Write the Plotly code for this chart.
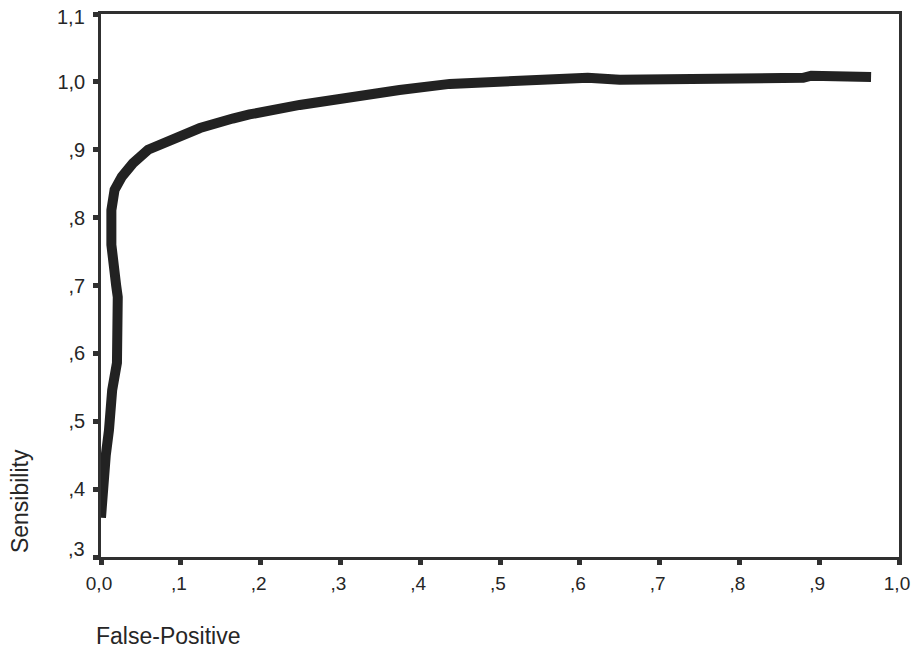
import plotly.graph_objects as go

# ROC curve
false_positive = [0.000, 0.002, 0.006, 0.010, 0.014, 0.020, 0.021, 0.021, 0.019, 0.016,
                  0.013, 0.013, 0.017, 0.026, 0.040, 0.059, 0.086, 0.124, 0.165, 0.186,
                  0.249, 0.312, 0.374, 0.437, 0.499, 0.574, 0.610, 0.650, 0.770, 0.780,
                  0.880, 0.890, 0.905, 0.910, 0.940, 0.945, 0.965]
sensibility = [0.358, 0.400, 0.450, 0.487, 0.546, 0.586, 0.620, 0.683, 0.700, 0.730,
               0.760, 0.811, 0.841, 0.860, 0.880, 0.900, 0.914, 0.932, 0.946, 0.952,
               0.966, 0.978, 0.988, 0.997, 1.000, 1.001, 1.006, 1.003, 1.003, 1.006,
               1.006, 1.009, 1.009, 1.006, 1.006, 1.009, 1.007]

x_ticks = [0.0, 0.1, 0.2, 0.3, 0.4, 0.5, 0.6, 0.7, 0.8, 0.9, 1.0]
x_labels = ["0,0", ",1", ",2", ",3", ",4", ",5", ",6", ",7", ",8", ",9", "1,0"]
y_ticks = [0.3, 0.4, 0.5, 0.6, 0.7, 0.8, 0.9, 1.0, 1.1]
y_labels = [",3", ",4", ",5", ",6", ",7", ",8", ",9", "1,0", "1,1"]

FONT = "Liberation Sans, Arial, sans-serif"
INK = "#262626"

fig = go.Figure()
fig.add_trace(go.Scatter(
    x=false_positive, y=sensibility, mode="lines",
    line=dict(color="#222222", width=10, shape="linear"),
    hoverinfo="skip", showlegend=False,
))

axis_common = dict(
    showgrid=False, zeroline=False, showline=True, mirror=True,
    linecolor="#303030", linewidth=2.5, automargin=False,
    ticks="outside", ticklen=5, tickwidth=5, tickcolor="#303030",
    ticklabeloverflow="allow",
)

# the end labels of the y axis sit slightly inside their ticks in the original
y_inner_text = [lab if 0 < i < len(y_labels) - 1 else "" for i, lab in enumerate(y_labels)]
end_label_shift = {0: 8, len(y_labels) - 1: -3}

annotations = [
    dict(text=y_labels[i], xref="paper", yref="y", x=-0.0175, y=y_ticks[i],
         yshift=end_label_shift[i], xanchor="right", yanchor="middle", showarrow=False,
         font=dict(family=FONT, size=20, color=INK))
    for i in end_label_shift
]
annotations += [
    dict(text="Sensibility", xref="paper", yref="paper", x=-0.1015, y=0.103,
         textangle=-90, showarrow=False, xanchor="center", yanchor="middle",
         font=dict(family=FONT, size=23, color=INK)),
    dict(text="False-Positive", xref="paper", yref="paper", x=-0.009, y=-0.146,
         showarrow=False, xanchor="left", yanchor="middle",
         font=dict(family=FONT, size=23, color=INK)),
]

# page body has an 8px margin, so the figure is placed 8px in from the window
fig.update_layout(
    width=903, height=638,
    margin=dict(l=93, r=12, t=6, b=89),
    paper_bgcolor="white", plot_bgcolor="white",
    xaxis=dict(range=[0, 1], tickvals=x_ticks, ticktext=x_labels,
               ticklabelstandoff=2, ticklabelshift=-2,
               tickfont=dict(family=FONT, size=19, color=INK), **axis_common),
    yaxis=dict(range=[0.3, 1.1], tickvals=y_ticks, ticktext=y_inner_text,
               ticklabelstandoff=4,
               tickfont=dict(family=FONT, size=20, color=INK), **axis_common),
    annotations=annotations,
)

fig.write_html("out.html")
